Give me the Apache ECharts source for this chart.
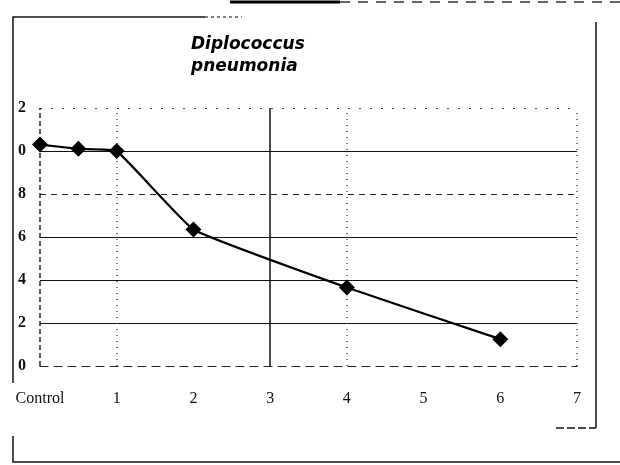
<!DOCTYPE html>
<html>
<head>
<meta charset="utf-8">
<script src="https://cdn.jsdelivr.net/npm/echarts@6/dist/echarts.min.js"></script>
<style>html,body{margin:0;padding:0;background:#fff}#c{width:620px;height:465px}</style>
</head>
<body>
<div id="c"></div>
<script>
var titleLines = ['Diplococcus', 'pneumonia'];
var xTickLabels = ['Control', '1', '2', '3', '4', '5', '6', '7'];
var yTickLabels = ['0', '2', '4', '6', '8', '0', '2'];
var xValues = [0, 0.5, 1, 2, 4, 6];
var yValues = [10.3, 10.1, 10.0, 6.35, 3.65, 1.25];
var hGridSolid = [2, 4, 6, 10];
var hGridDashed = [8];
var hGridDotted = [12];
var vGridSolid = [3];
var vGridDashed = [0];
var vGridDotted = [1, 4, 7];

var points = xValues.map(function (x, i) { return [x, yValues[i]]; });

function mk(list, axis, type, width, color) {
  return list.map(function (v) {
    var o = { lineStyle: { type: type, width: width, color: color } };
    o[axis] = v;
    return o;
  });
}
var markData = []
  .concat(mk(hGridSolid, 'yAxis', 'solid', 1.2, '#111'))
  .concat(mk(hGridDashed, 'yAxis', [6, 5], 1.2, '#222'))
  .concat(mk(hGridDotted, 'yAxis', [2, 9], 1.2, '#444'))
  .concat(mk(vGridSolid, 'xAxis', 'solid', 1.5, '#111'))
  .concat(mk(vGridDashed, 'xAxis', [5, 3], 1.5, '#222'))
  .concat(mk(vGridDotted, 'xAxis', [1, 5], 1.5, '#444'));

var chart = echarts.init(document.getElementById('c'), null, { renderer: 'canvas' });
chart.setOption({
  animation: false,
  backgroundColor: '#fff',
  grid: { left: 40, right: 43, top: 108, bottom: 99, containLabel: false },
  title: {
    text: titleLines.join('\n'),
    left: 186, top: 29,
    textStyle: { fontFamily: 'DejaVu Sans', fontSize: 17, fontWeight: 'bold', fontStyle: 'italic', color: '#000', lineHeight: 22 }
  },
  xAxis: {
    type: 'value', min: 0, max: 7, interval: 1,
    axisLine: { show: true, lineStyle: { color: '#222', width: 1.2, type: [8, 6] } },
    axisTick: { show: false },
    splitLine: { show: false },
    axisLabel: {
      margin: 25,
      fontFamily: 'Liberation Serif', fontSize: 16, color: '#111',
      formatter: function (v) { return xTickLabels[Math.round(v)]; }
    }
  },
  yAxis: {
    type: 'value', min: 0, max: 12, interval: 2,
    axisLine: { show: false },
    axisTick: { show: false },
    splitLine: { show: false },
    axisLabel: {
      margin: 14,
      fontFamily: 'Liberation Serif', fontSize: 16, fontWeight: 'bold', color: '#111',
      formatter: function (v) { return yTickLabels[Math.round(v / 2)]; }
    }
  },
  series: [{
    type: 'line',
    data: points,
    smooth: 0.1,
    symbol: 'diamond',
    symbolSize: 16,
    itemStyle: { color: '#000' },
    lineStyle: { color: '#000', width: 2.2 },
    markLine: {
      silent: true, symbol: 'none', label: { show: false },
      data: markData
    },
    z: 5
  }],
  graphic: [
    { type: 'polyline', shape: { points: [[13, 383], [13, 17], [205, 17]] }, style: { stroke: '#111', lineWidth: 1.5, fill: null } },
    { type: 'line', shape: { x1: 205, y1: 17, x2: 242, y2: 17 }, style: { stroke: '#333', lineWidth: 1.2, lineDash: [3, 3] } },
    { type: 'line', shape: { x1: 596, y1: 22, x2: 596, y2: 428 }, style: { stroke: '#111', lineWidth: 1.5 } },
    { type: 'line', shape: { x1: 556, y1: 428, x2: 596, y2: 428 }, style: { stroke: '#111', lineWidth: 1.5, lineDash: [8, 3] } },
    { type: 'polyline', shape: { points: [[13, 436], [13, 462], [620, 462]] }, style: { stroke: '#111', lineWidth: 1.5, fill: null } },
    { type: 'line', shape: { x1: 230, y1: 2, x2: 340, y2: 2 }, style: { stroke: '#000', lineWidth: 3 } },
    { type: 'line', shape: { x1: 340, y1: 2, x2: 620, y2: 2 }, style: { stroke: '#333', lineWidth: 1.5, lineDash: [10, 8] } }
  ]
});
</script>
</body>
</html>
